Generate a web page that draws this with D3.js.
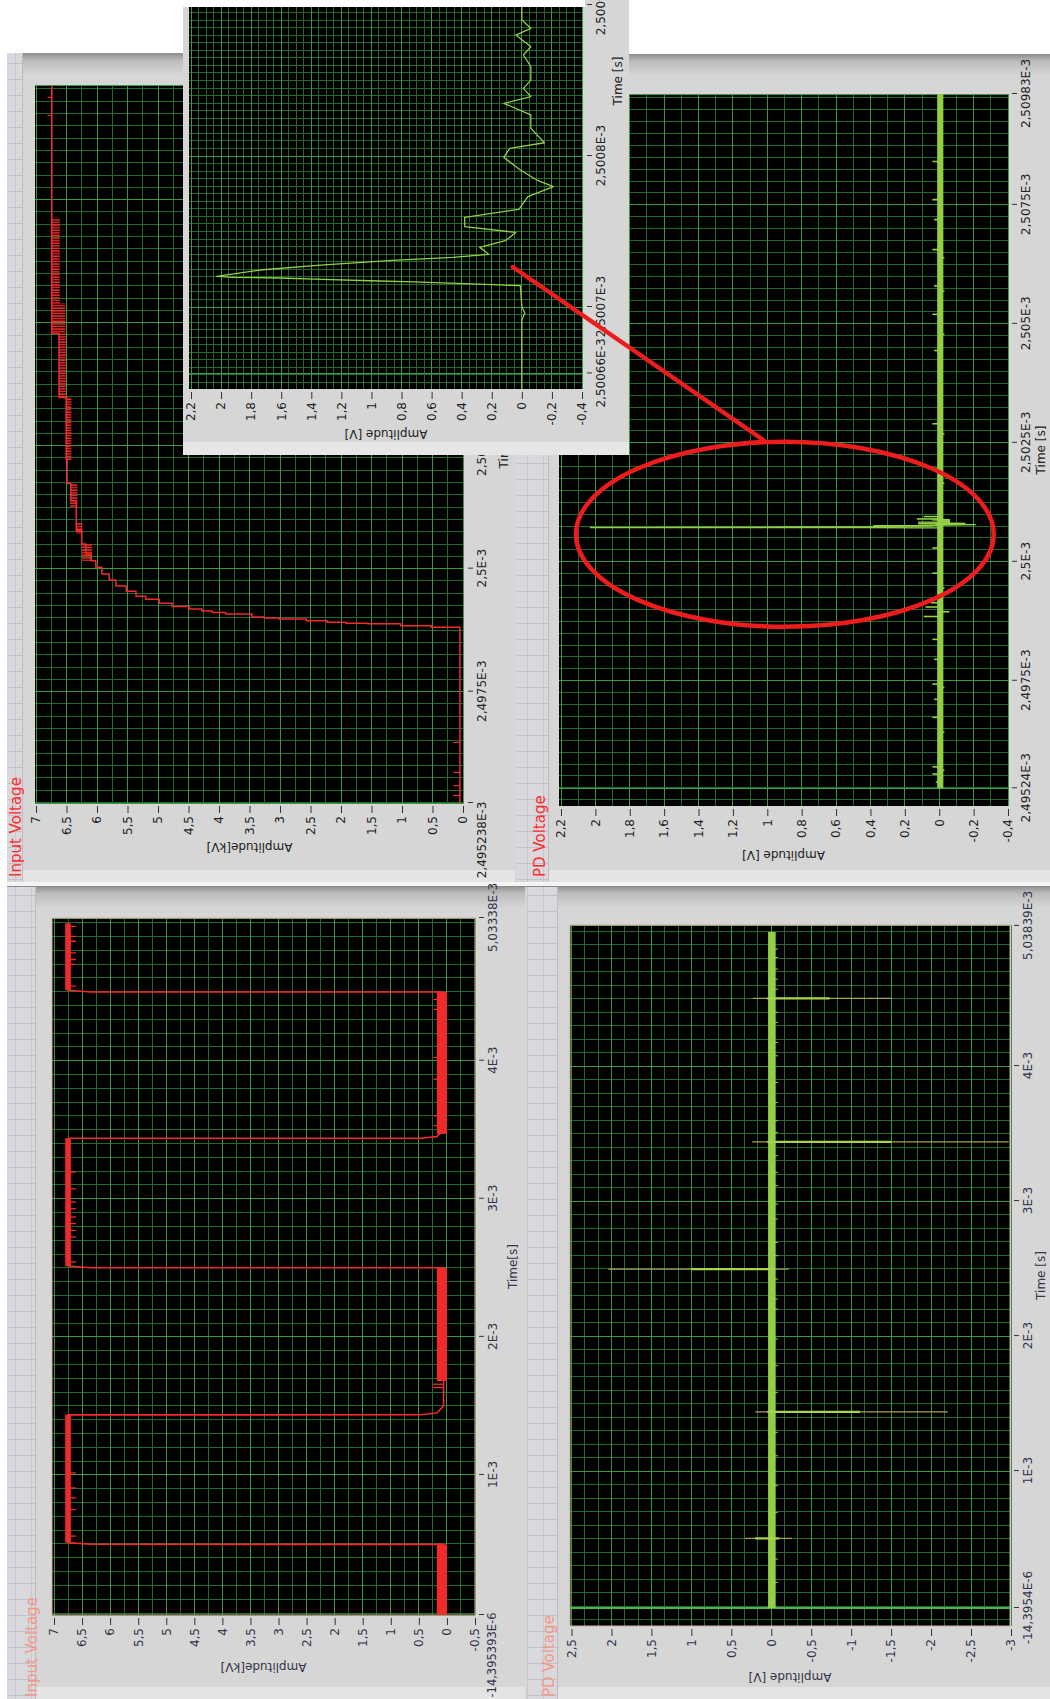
<!DOCTYPE html>
<html><head><meta charset="utf-8">
<script src="https://cdn.jsdelivr.net/npm/d3@7"></script>
<style>html,body{margin:0;padding:0;background:#fff;} svg{display:block;}</style>
</head><body>
<script>
// ================= DATA (times in ms, amplitudes in kV or V) =================
// ---- Input Voltage, full record (lower left) ----
const inFullTimeTicks  = [-0.014395393, 1, 2, 3, 4, 5.03338];
const inFullTimeLabels = ["-14,395393E-6", "1E-3", "2E-3", "3E-3", "4E-3", "5,03338E-3"];
const inFullAmpTicks   = [7, 6.5, 6, 5.5, 5, 4.5, 4, 3.5, 3, 2.5, 2, 1.5, 1, 0.5, 0, -0.5];
const inFullAmpLabels  = ["7","6,5","6","5,5","5","4,5","4","3,5","3","2,5","2","1,5","1","0,5","0","-0,5"];
const inFullT = [-0.0144, 0.497, 0.4975, 0.51, 1.435, 1.4355, 1.448, 1.5, 2.5, 2.5005, 2.513, 3.438, 3.4385, 3.45, 3.5, 4.497, 4.4975, 4.51, 4.995];
const inFullV = [0.06, 0.06, 6.34, 6.75, 6.75, 0.47, 0.18, 0.06, 0.06, 6.34, 6.75, 6.75, 0.47, 0.18, 0.06, 0.06, 6.34, 6.75, 6.75];
const inFullBandT0 = [-0.0144, 1.68, 3.47, 0.51, 2.513, 4.51];
const inFullBandT1 = [0.497, 2.5, 4.497, 1.435, 3.438, 4.995];
const inFullBandLo = [0, 0, 0, 6.70, 6.70, 6.70];
const inFullBandHi = [0.18, 0.18, 0.18, 6.80, 6.80, 6.80];
const inFullSpikeT    = [0.557, 0.749, 0.834, 0.906, 1.014, 2.543, 2.723, 2.771, 2.820, 2.868, 2.928, 2.976, 3.072, 3.193, 4.540, 4.697, 4.733, 4.781, 4.865, 4.901, 4.973, 1.633, 1.657, 3.529, 3.601, 3.866, 4.023, 4.372, 4.444];
const inFullSpikeFrom = [6.72, 6.72, 6.72, 6.72, 6.72, 6.72, 6.72, 6.72, 6.72, 6.72, 6.72, 6.72, 6.72, 6.72, 6.72, 6.72, 6.72, 6.72, 6.72, 6.72, 6.72, 0.06, 0.06, 0.1, 0.1, 0.1, 0.1, 0.1, 0.1];
const inFullSpikeTo   = [6.61, 6.61, 6.61, 6.61, 6.61, 6.61, 6.61, 6.61, 6.61, 6.61, 6.61, 6.61, 6.61, 6.61, 6.61, 6.61, 6.61, 6.61, 6.61, 6.61, 6.61, 0.25, 0.25, 0.24, 0.24, 0.24, 0.24, 0.24, 0.24];

// ---- PD Voltage, full record (lower right) ----
const pdFullTimeTicks  = [-0.0143954, 1, 2, 3, 4, 5.03839];
const pdFullTimeLabels = ["-14,3954E-6", "1E-3", "2E-3", "3E-3", "4E-3", "5,03839E-3"];
const pdFullAmpTicks   = [2.5, 2, 1.5, 1, 0.5, 0, -0.5, -1, -1.5, -2, -2.5, -3];
const pdFullAmpLabels  = ["2,5","2","1,5","1","0,5","0","-0,5","-1","-1,5","-2","-2,5","-3"];
const pdFullBandT0 = [-0.0144];
const pdFullBandT1 = [4.993];
const pdFullBandLo = [-0.055];
const pdFullBandHi = [0.04];
const pdFullNoiseT = [0.176, 0.348, 0.694, 0.891, 1.113, 1.287, 1.583, 1.78, 1.978, 2.2, 2.274, 2.422, 2.595, 2.694, 2.867, 2.978, 3.114, 3.213, 3.336, 3.509, 3.595, 3.731, 3.879, 4.076, 4.175, 4.324, 4.398, 4.570, 4.644, 4.719, 4.805, 4.867];
const pdFullNoiseV = -0.085;
const pdFullSpikeT      = [0.501, 1.439, 2.496, 3.439, 4.501];
const pdFullSpikeHi     = [0.33, 0.20, 2.04, 0.24, 0.23];
const pdFullSpikeLo     = [-0.26, -2.21, -0.22, -2.97, -1.51];
const pdFullSpikeCoreHi = [0.20, 0.05, 1.00, 0.05, 0.05];
const pdFullSpikeCoreLo = [-0.10, -1.11, -0.05, -1.50, -0.73];

// ---- Input Voltage, zoom (upper left) ----
const inZoomTimeTicks  = [2.495238, 2.4975, 2.5, 2.5025, 2.505, 2.5075, 2.50983];
const inZoomTimeLabels = ["2,495238E-3", "2,4975E-3", "2,5E-3", "2,5025E-3", "2,505E-3", "2,5075E-3", "2,50983E-3"];
const inZoomAmpTicks   = [7, 6.5, 6, 5.5, 5, 4.5, 4, 3.5, 3, 2.5, 2, 1.5, 1, 0.5, 0];
const inZoomAmpLabels  = ["7","6,5","6","5,5","5","4,5","4","3,5","3","2,5","2","1,5","1","0,5","0"];
const inZoomT = [2.495238, 2.49878, 2.49881, 2.49884, 2.49888, 2.49889, 2.49891, 2.49894, 2.49898, 2.49900, 2.49902, 2.49908, 2.49911, 2.49914, 2.49918, 2.49923, 2.49930, 2.49938, 2.49944, 2.49954, 2.49965, 2.49977, 2.49989, 2.50003, 2.50016, 2.50030, 2.50050, 2.50077, 2.50138, 2.50173, 2.50220, 2.50348, 2.50478, 2.50983];
const inZoomV = [0.05, 0.05, 0.52, 1.02, 1.57, 1.92, 2.23, 2.57, 3.02, 3.26, 3.46, 3.89, 4.11, 4.28, 4.49, 4.77, 4.98, 5.20, 5.36, 5.52, 5.69, 5.80, 5.92, 6.02, 6.10, 6.18, 6.25, 6.34, 6.43, 6.49, 6.50, 6.62, 6.74, 6.74];
const inZoomBandT0 = [2.50016, 2.50071, 2.50124, 2.50220, 2.50348, 2.50478, 2.50539];
const inZoomBandT1 = [2.50050, 2.50094, 2.50173, 2.50348, 2.50478, 2.50539, 2.50713];
const inZoomBandLo = [6.08, 6.24, 6.32, 6.42, 6.51, 6.52, 6.61];
const inZoomBandHi = [6.25, 6.34, 6.44, 6.52, 6.63, 6.74, 6.74];
const inZoomSpikeT    = [2.49539, 2.49559, 2.49586, 2.49647, 2.50921, 2.50958];
const inZoomSpikeFrom = [0.05, 0.05, 0.05, 0.05, 6.74, 6.74];
const inZoomSpikeTo   = [0.16, 0.16, 0.16, 0.16, 6.81, 6.81];

// ---- PD Voltage, zoom (upper right) ----
const pdZoomTimeTicks  = [2.49524, 2.4975, 2.5, 2.5025, 2.505, 2.5075, 2.50983];
const pdZoomTimeLabels = ["2,49524E-3", "2,4975E-3", "2,5E-3", "2,5025E-3", "2,505E-3", "2,5075E-3", "2,50983E-3"];
const pdZoomAmpTicks   = [2.2, 2, 1.8, 1.6, 1.4, 1.2, 1, 0.8, 0.6, 0.4, 0.2, 0, -0.2, -0.4];
const pdZoomAmpLabels  = ["2,2","2","1,8","1,6","1,4","1,2","1","0,8","0,6","0,4","0,2","0","-0,2","-0,4"];
const pdZoomBandT0 = [2.49524];
const pdZoomBandT1 = [2.50983];
const pdZoomBandLo = [-0.024];
const pdZoomBandHi = [0.012];
const pdZoomSpikeT = [2.49537, 2.49554, 2.49562, 2.49569, 2.49642, 2.49673, 2.49711, 2.49736, 2.49743, 2.49795, 2.49837, 2.49885, 2.49895, 2.49905, 2.49914, 2.49945, 2.49976, 2.50029, 2.50090, 2.50095, 2.50165, 2.50196, 2.50269, 2.5029, 2.50444, 2.50478, 2.5052, 2.50569, 2.5058, 2.50639, 2.50656, 2.50719, 2.50761, 2.50841];
const pdZoomSpikeV = [0.02, 0.04, -0.03, 0.04, -0.03, 0.04, 0.03, -0.03, 0.04, 0.03, 0.04, 0.09, -0.06, 0.08, 0.05, -0.03, 0.04, 0.04, 0.13, 0.09, -0.03, 0.04, -0.03, 0.04, 0.03, -0.03, 0.04, -0.03, 0.03, -0.03, 0.04, 0.03, 0.04, 0.04];

// ---- Inset: PD pulse detail ----
const insetTimeTicks  = [2.500656, 2.5007, 2.5008, 2.5009];
const insetTimeLabels = ["2,50066E-3", "2,5007E-3", "2,5008E-3", "2,5009E-3"];
const insetAmpTicks   = [2.2, 2, 1.8, 1.6, 1.4, 1.2, 1, 0.8, 0.6, 0.4, 0.2, 0, -0.2, -0.4];
const insetAmpLabels  = ["2,2","2","1,8","1,6","1,4","1,2","1","0,8","0,6","0,4","0,2","0","-0,2","-0,4"];
const insetT = [2.5006428, 2.5006914, 2.5006958, 2.5007002, 2.5007141, 2.5007146, 2.5007157, 2.5007166, 2.5007174, 2.5007183, 2.5007192, 2.5007196, 2.5007203, 2.5007245, 2.5007278, 2.5007309, 2.5007329, 2.5007349, 2.5007395, 2.5007439, 2.5007494, 2.5007532, 2.5007594, 2.5007647, 2.5007731, 2.5007797, 2.5007841, 2.5007907, 2.5007991, 2.5008051, 2.5008088, 2.5008183, 2.5008272, 2.5008349, 2.5008393, 2.5008448, 2.5008503, 2.5008592, 2.5008669, 2.5008724, 2.5008801, 2.5008846, 2.5008901, 2.5008989];
const insetV = [0, 0, -0.02, 0, 0.01, 0.15, 0.43, 0.72, 1.01, 1.32, 1.61, 1.91, 2.03, 1.74, 1.34, 0.86, 0.46, 0.22, 0.28, 0.11, 0.04, 0.38, 0.38, 0.02, -0.04, -0.21, -0.10, 0.01, 0.12, 0.08, -0.15, -0.06, -0.06, 0.12, -0.06, -0.01, -0.06, -0.06, -0.01, -0.06, 0.04, -0.06, 0, 0];

// ---- call-out annotation (data coordinates) ----
const calloutEllipse = [2.50058, 0.898, 0.001944, 1.215];   // centre t, centre amp, half-span t, half-span amp (PD zoom)
const calloutFrom = [2.5007265, 0.06];                      // inset coords
const calloutTo   = [2.502559, 1.023];                      // PD zoom coords

// ================= DRAWING =================
const FONT = '"DejaVu Sans", Verdana, sans-serif';
const MINOR = '#226a2b', MAJOR = '#3a9a44';
const RED = '#f22a2a', GREEN = '#93cf45';

const svg = d3.select('body').append('svg').attr('width', 1050).attr('height', 1699)
  .style('font-family', FONT);
const defs = svg.append('defs');
svg.append('rect').attr('width', 1050).attr('height', 1699).attr('fill', '#fff');

// panel grid pattern (LabVIEW front-panel grid)
const pat = defs.append('pattern').attr('id', 'pgrid').attr('patternUnits', 'userSpaceOnUse')
  .attr('width', 16).attr('height', 16);
pat.append('rect').attr('width', 16).attr('height', 16).attr('fill', '#d8d8dd');
pat.append('line').attr('x1', 0).attr('x2', 16).attr('y1', 15.5).attr('y2', 15.5).attr('stroke', '#c2c2ca');
pat.append('line').attr('x1', 15.5).attr('x2', 15.5).attr('y1', 0).attr('y2', 16).attr('stroke', '#c6c6ce');
// hatch for noisy trace envelopes (drawn in rotated local space)
const hat = defs.append('pattern').attr('id', 'hatch').attr('patternUnits', 'userSpaceOnUse')
  .attr('width', 2.6).attr('height', 10);
hat.append('rect').attr('width', 1.5).attr('height', 10).attr('fill', RED);

const tg = defs.append('linearGradient').attr('id', 'topgrad').attr('x1', 0).attr('x2', 0).attr('y1', 0).attr('y2', 1);
tg.append('stop').attr('offset', '0%').attr('stop-color', '#8e8e8e');
tg.append('stop').attr('offset', '35%').attr('stop-color', '#bdbdbd');
tg.append('stop').attr('offset', '100%').attr('stop-color', '#d6d6d6');

// quadrants (window frames)
const quads = [
  {x: 7,   y: 53,  w: 508, h: 829, s0: 7,   s1: 22,  title: 'Input Voltage', tx: 21,  ty: 877,  tc: '#ff2b2b'},
  {x: 515, y: 54,  w: 535, h: 828, s0: 517, s1: 548, title: 'PD Voltage',    tx: 545, ty: 877,  tc: '#ff2b2b'},
  {x: 7,   y: 886, w: 518, h: 813, s0: 7,   s1: 35,  title: 'Input Voltage', tx: 37,  ty: 1697, tc: '#f59886'},
  {x: 525, y: 886, w: 525, h: 813, s0: 527, s1: 557, title: 'PD Voltage',    tx: 554, ty: 1697, tc: '#f59886'}
];
quads.forEach(q => {
  svg.append('rect').attr('x', q.x).attr('y', q.y).attr('width', q.w).attr('height', q.h).attr('fill', '#d6d6d6');
  svg.append('rect').attr('x', q.s1).attr('y', q.y).attr('width', q.x + q.w - q.s1).attr('height', 22).attr('fill', 'url(#topgrad)');
  svg.append('rect').attr('x', q.s1).attr('y', q.y + q.h - 12).attr('width', q.x + q.w - q.s1).attr('height', 12).attr('fill', '#e4e4e4');
  svg.append('rect').attr('x', q.s0).attr('y', q.y).attr('width', q.s1 - q.s0).attr('height', q.h).attr('fill', 'url(#pgrid)');
  svg.append('line').attr('x1', q.s1 + 0.5).attr('x2', q.s1 + 0.5).attr('y1', q.y).attr('y2', q.y + q.h).attr('stroke', '#bcbcbc');
  svg.append('text').attr('transform', `translate(${q.tx},${q.ty}) rotate(-90)`)
    .attr('font-size', 15).attr('fill', q.tc).text(q.title);
});
svg.append('rect').attr('x', 7).attr('y', 882).attr('width', 1043).attr('height', 4).attr('fill', '#f4f4f4');
svg.append('line').attr('x1', 7).attr('x2', 1050).attr('y1', 886.5).attr('y2', 886.5).attr('stroke', '#8a8a8a');

let clipN = 0;
function regular(dom, anchor, step) {
  const lo = Math.min(dom[0], dom[1]), hi = Math.max(dom[0], dom[1]);
  const k0 = Math.ceil((lo - anchor) / step - 1e-6), k1 = Math.floor((hi - anchor) / step + 1e-6);
  return d3.range(k0, k1 + 1).map(k => anchor + k * step);
}

function makePanel(o) {
  const Wl = o.y1 - o.y0, Hl = o.x1 - o.x0;
  const g = svg.append('g').attr('transform', `translate(${o.x0},${o.y1}) rotate(-90)`);
  const xT = d3.scaleLinear().domain(o.tDomain).range([0, Wl]);
  const yA = d3.scaleLinear().domain(o.aDomain).range(o.aRange);
  const id = 'clip' + (clipN++);
  defs.append('clipPath').attr('id', id).append('rect').attr('width', Wl).attr('height', Hl);
  g.append('rect').attr('width', Wl).attr('height', Hl).attr('fill', '#000');
  const gg = g.append('g').attr('shape-rendering', 'crispEdges');
  const inT = v => v >= Math.min(...xT.domain()) && v <= Math.max(...xT.domain());
  const inA = v => v >= Math.min(...yA.domain()) && v <= Math.max(...yA.domain());
  gg.selectAll('line.tm').data(regular(xT.domain(), o.tAnchor, o.tStep)).join('line').attr('class', 'tm')
    .attr('x1', d => xT(d)).attr('x2', d => xT(d)).attr('y1', 0).attr('y2', Hl).attr('stroke', MINOR);
  gg.selectAll('line.am').data(regular(yA.domain(), o.aAnchor, o.aStep)).join('line').attr('class', 'am')
    .attr('y1', d => yA(d)).attr('y2', d => yA(d)).attr('x1', 0).attr('x2', Wl).attr('stroke', MINOR);
  gg.selectAll('line.tM').data(o.tTicks.filter(inT)).join('line').attr('class', 'tM')
    .attr('x1', d => xT(d)).attr('x2', d => xT(d)).attr('y1', 0).attr('y2', Hl).attr('stroke', MAJOR);
  gg.selectAll('line.aM').data(o.aTicks.filter(inA)).join('line').attr('class', 'aM')
    .attr('y1', d => yA(d)).attr('y2', d => yA(d)).attr('x1', 0).attr('x2', Wl).attr('stroke', MAJOR);
  if (o.border) g.append('rect').attr('width', Wl).attr('height', Hl).attr('fill', 'none').attr('stroke', o.border);
  const plot = g.append('g').attr('clip-path', `url(#${id})`);

  const lc = o.labelColor || '#222';
  const ax = g.append('g').attr('transform', 'translate(-3,0)')
    .call(d3.axisLeft(yA).tickValues(o.aTicks).tickFormat((d, i) => o.aLabels[i]).tickSize(7).tickPadding(3));
  const tx = g.append('g').attr('transform', `translate(0,${Hl + 4})`)
    .call(d3.axisBottom(xT).tickValues(o.tTicks).tickFormat((d, i) => o.tLabels[i]).tickSize(5).tickPadding(4));
  [ax, tx].forEach(s => {
    s.attr('font-size', 12).attr('font-family', FONT);
    s.select('.domain').remove();
    s.selectAll('line').attr('stroke', '#333');
    s.selectAll('text').attr('fill', lc);
  });
  if (o.firstEnd != null) tx.selectAll('.tick text').filter((d, i) => i === 0)
    .attr('text-anchor', 'end').attr('x', o.firstEnd).attr('font-size', o.firstSize || 12);
  g.append('text').attr('transform', `translate(${o.aTitleX},${Hl / 2}) rotate(-90)`)
    .attr('text-anchor', 'middle').attr('dominant-baseline', 'central')
    .attr('font-size', 12).attr('fill', lc).text(o.aTitle);
  g.append('text').attr('x', o.tTitleU != null ? o.tTitleU : Wl / 2).attr('y', Hl + o.tTitleV)
    .attr('text-anchor', 'middle').attr('dominant-baseline', 'central')
    .attr('font-size', 12).attr('fill', lc).text(o.tTitle);
  return {g, plot, xT, yA, Wl, Hl, sx: (t, a) => [o.x0 + yA(a), o.y1 - xT(t)]};
}

function bands(p, T0, T1, Lo, Hi, fill) {
  p.plot.selectAll(null).data(d3.range(T0.length)).join('rect')
    .attr('x', i => p.xT(T0[i])).attr('width', i => p.xT(T1[i]) - p.xT(T0[i]))
    .attr('y', i => p.yA(Hi[i])).attr('height', i => p.yA(Lo[i]) - p.yA(Hi[i]))
    .attr('fill', fill);
}
function spikes(p, T, From, To, color, w) {
  p.plot.selectAll(null).data(d3.range(T.length)).join('line')
    .attr('x1', i => p.xT(T[i])).attr('x2', i => p.xT(T[i]))
    .attr('y1', i => p.yA(From[i])).attr('y2', i => p.yA(To[i]))
    .attr('stroke', color).attr('stroke-width', w);
}
function trace(p, T, V, color, w, curve) {
  const line = d3.line().x(d => p.xT(d[0])).y(d => p.yA(d[1])).curve(curve || d3.curveLinear);
  p.plot.append('path').attr('d', line(d3.zip(T, V))).attr('fill', 'none')
    .attr('stroke', color).attr('stroke-width', w).attr('stroke-linejoin', 'round');
}

// ---- lower left: Input Voltage full ----
const pLL = makePanel({
  x0: 52, x1: 475, y0: 918, y1: 1615,
  tDomain: [-0.014395393, 5.03338], aDomain: [7, -0.5], aRange: [2, 423],
  tAnchor: 0, tStep: 0.1, aAnchor: 0, aStep: 0.25,
  tTicks: inFullTimeTicks, tLabels: inFullTimeLabels, aTicks: inFullAmpTicks, aLabels: inFullAmpLabels,
  firstEnd: 2, firstSize: 11.5, aTitle: 'Amplitude[kV]', aTitleX: -52, tTitle: 'Time[s]', tTitleV: 38,
  labelColor: '#34344a', border: '#d9ab9c'
});
bands(pLL, inFullBandT0, inFullBandT1, inFullBandLo, inFullBandHi, RED);
spikes(pLL, inFullSpikeT, inFullSpikeFrom, inFullSpikeTo, RED, 1.3);
trace(pLL, inFullT, inFullV, RED, 1.6);

// ---- lower right: PD Voltage full ----
const pLR = makePanel({
  x0: 570, x1: 1010, y0: 925, y1: 1626,
  tDomain: [-0.1477, 5.045], aDomain: [2.5, -3], aRange: [1.5, 441],
  tAnchor: 0, tStep: 0.1, aAnchor: 0, aStep: 1 / 6,
  tTicks: pdFullTimeTicks, tLabels: pdFullTimeLabels, aTicks: pdFullAmpTicks, aLabels: pdFullAmpLabels,
  aTitle: 'Amplitude [V]', aTitleX: -51, tTitle: 'Time [s]', tTitleV: 31,
  labelColor: '#34344a', border: '#d9ab9c'
});
pLR.plot.append('line').attr('x1', pLR.xT(pdFullTimeTicks[0])).attr('x2', pLR.xT(pdFullTimeTicks[0]))
  .attr('y1', 0).attr('y2', pLR.Hl).attr('stroke', '#4fb04f').attr('stroke-width', 2);
bands(pLR, pdFullBandT0, pdFullBandT1, pdFullBandLo, pdFullBandHi, GREEN);
spikes(pLR, pdFullNoiseT, pdFullNoiseT.map(() => 0), pdFullNoiseT.map(() => pdFullNoiseV), GREEN, 1);
spikes(pLR, pdFullSpikeT, pdFullSpikeHi, pdFullSpikeLo, '#a7a44c', 1.2);
spikes(pLR, pdFullSpikeT, pdFullSpikeCoreHi, pdFullSpikeCoreLo, '#a6d34e', 2.2);

// ---- upper left: Input Voltage zoom ----
const pUL = makePanel({
  x0: 35, x1: 464, y0: 85, y1: 803,
  tDomain: [2.495238, 2.50983], aDomain: [7, 0], aRange: [1, 428],
  tAnchor: 2.5, tStep: 0.00025, aAnchor: 0, aStep: 0.25,
  tTicks: inZoomTimeTicks, tLabels: inZoomTimeLabels, aTicks: inZoomAmpTicks, aLabels: inZoomAmpLabels,
  firstEnd: 1, aTitle: 'Amplitude[kV]', aTitleX: -44, tTitle: 'Time [s]', tTitleV: 40
});
bands(pUL, inZoomBandT0, inZoomBandT1, inZoomBandLo, inZoomBandHi, 'url(#hatch)');
spikes(pUL, inZoomSpikeT, inZoomSpikeFrom, inZoomSpikeTo, RED, 1.2);
trace(pUL, inZoomT, inZoomV, RED, 1.5, d3.curveStepAfter);

// ---- upper right: PD Voltage zoom ----
const pUR = makePanel({
  x0: 559, x1: 1008, y0: 94, y1: 806,
  tDomain: [2.494868, 2.50983], aDomain: [2.2, -0.4], aRange: [2, 449],
  tAnchor: 2.5, tStep: 0.00025, aAnchor: 0, aStep: 0.1,
  tTicks: pdZoomTimeTicks, tLabels: pdZoomTimeLabels, aTicks: pdZoomAmpTicks, aLabels: pdZoomAmpLabels,
  aTitle: 'Amplitude [V]', aTitleX: -49, tTitle: 'Time [s]', tTitleV: 33
});
bands(pUR, pdZoomBandT0, pdZoomBandT1, pdZoomBandLo, pdZoomBandHi, GREEN);
spikes(pUR, pdZoomSpikeT, pdZoomSpikeT.map(() => 0), pdZoomSpikeV, GREEN, 1.6);
trace(pUR, insetT, insetV, GREEN, 1.3);

// ---- inset: pulse detail ----
svg.append('rect').attr('x', 183).attr('y', 0).attr('width', 446).attr('height', 455).attr('fill', '#d6d6d6');
svg.append('rect').attr('x', 183).attr('y', 442).attr('width', 446).attr('height', 13).attr('fill', '#e6e6e6');
svg.append('rect').attr('x', 183).attr('y', 0).attr('width', 402).attr('height', 7).attr('fill', '#fff');
const pIn = makePanel({
  x0: 189, x1: 583, y0: 7, y1: 389,
  tDomain: [2.5006457, 2.5008987], aDomain: [2.2, -0.4], aRange: [2, 393],
  tAnchor: 2.5008, tStep: 0.000005, aAnchor: 0, aStep: 0.05,
  tTicks: insetTimeTicks, tLabels: insetTimeLabels, aTicks: insetAmpTicks, aLabels: insetAmpLabels,
  aTitle: 'Amplitude [V]', aTitleX: -45, tTitle: 'Time [s]', tTitleV: 35, tTitleU: 308
});
trace(pIn, insetT, insetV, GREEN, 1.3);

// ---- call-out: ellipse + connector ----
const ec = pUR.sx(calloutEllipse[0], calloutEllipse[1]);
const erx = Math.abs(pUR.yA(calloutEllipse[1] + calloutEllipse[3]) - pUR.yA(calloutEllipse[1]));
const ery = Math.abs(pUR.xT(calloutEllipse[0] + calloutEllipse[2]) - pUR.xT(calloutEllipse[0]));
svg.append('ellipse').attr('cx', ec[0]).attr('cy', ec[1]).attr('rx', erx).attr('ry', ery)
  .attr('fill', 'none').attr('stroke', '#ee1c1c').attr('stroke-width', 4.5);
const c0 = pIn.sx(calloutFrom[0], calloutFrom[1]), c1 = pUR.sx(calloutTo[0], calloutTo[1]);
svg.append('line').attr('x1', c0[0]).attr('y1', c0[1]).attr('x2', c1[0]).attr('y2', c1[1])
  .attr('stroke', '#ee1c1c').attr('stroke-width', 4.5).attr('stroke-linecap', 'round');
</script>
</body></html>
